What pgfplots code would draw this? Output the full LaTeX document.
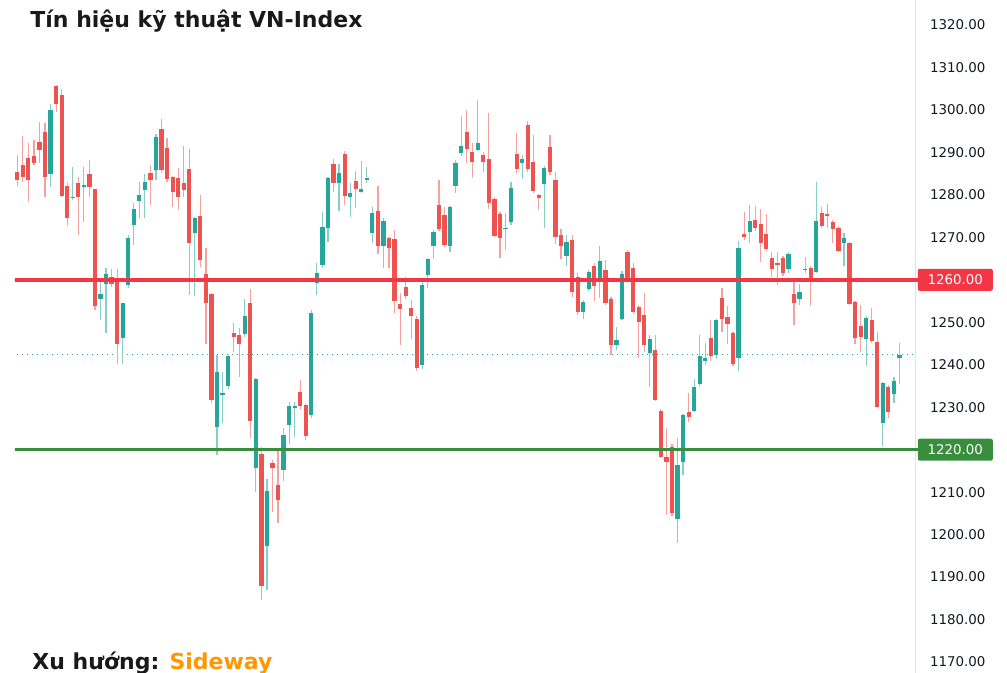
\documentclass[border=0pt]{standalone}
\usepackage{pgfplots}
\pgfplotsset{compat=1.18}
\usepackage{pgfplotstable}
\usepackage{fontspec}
\setmainfont{DejaVu Sans}
\definecolor{cred}{HTML}{EF5350}
\definecolor{cgreen}{HTML}{26A69A}
\colorlet{wred}{cred!55!white}
\colorlet{wgreen}{cgreen!55!white}
\definecolor{lred}{HTML}{F23645}
\definecolor{lgreen}{HTML}{388E3C}
\definecolor{axisgray}{HTML}{E0E3EB}
\definecolor{txt}{HTML}{131722}
\definecolor{sideorange}{HTML}{FF9800}

\pgfplotstableread{
x o h l c
0 1285.5 1289.4 1282.1 1283.5
1 1287.0 1293.9 1283.0 1284.3
2 1288.8 1292.1 1278.4 1283.5
3 1289.2 1292.9 1287.0 1287.4
4 1292.5 1297.2 1287.4 1290.6
5 1294.9 1296.9 1279.6 1284.3
7 1305.7 1305.9 1299.6 1301.4
8 1303.4 1304.9 1279.6 1279.8
9 1282.1 1283.1 1272.7 1274.6
11 1282.7 1284.3 1270.6 1279.6
13 1284.9 1288.2 1279.6 1281.9
14 1281.3 1281.5 1252.9 1253.8
17 1260.7 1262.5 1258.4 1259.0
18 1259.9 1262.5 1240.3 1245.0
24 1285.2 1287.0 1277.6 1283.5
26 1295.5 1297.8 1285.1 1285.9
27 1291.0 1293.3 1283.0 1283.7
28 1284.3 1284.5 1277.2 1280.6
29 1284.0 1286.3 1276.4 1279.4
30 1282.7 1291.5 1279.6 1281.1
31 1286.0 1290.7 1256.4 1268.6
33 1275.1 1280.0 1263.1 1264.7
34 1261.4 1267.4 1245.0 1254.5
35 1256.6 1257.0 1231.0 1231.7
39 1247.6 1249.8 1243.1 1246.5
40 1247.0 1248.6 1237.0 1244.9
42 1254.5 1257.8 1222.7 1226.8
44 1219.0 1220.7 1184.6 1187.9
46 1216.9 1217.7 1205.3 1215.8
47 1211.7 1219.9 1202.7 1208.2
51 1233.6 1236.4 1229.3 1230.3
52 1230.5 1230.8 1222.3 1223.3
57 1287.3 1288.4 1280.7 1282.7
59 1289.6 1290.4 1277.6 1279.7
61 1283.3 1285.7 1276.8 1281.3
65 1276.3 1282.1 1266.2 1267.9
67 1269.8 1270.2 1262.9 1267.6
68 1269.6 1271.7 1252.1 1255.1
69 1254.2 1256.8 1244.6 1253.1
70 1258.4 1260.7 1255.5 1256.2
71 1253.3 1255.2 1246.0 1251.5
72 1250.9 1251.5 1238.5 1239.2
76 1277.6 1283.5 1271.5 1271.9
77 1275.3 1277.1 1267.8 1268.2
81 1294.9 1300.1 1287.4 1290.8
82 1290.0 1292.1 1283.9 1287.8
84 1289.5 1290.0 1285.5 1287.8
85 1288.4 1299.4 1276.7 1278.0
86 1279.0 1279.5 1270.0 1270.4
87 1275.5 1276.0 1265.1 1269.9
90 1289.6 1294.5 1285.1 1286.1
92 1296.5 1297.5 1285.5 1286.1
93 1287.8 1294.1 1280.5 1280.9
94 1280.0 1280.3 1276.4 1279.3
96 1291.2 1294.1 1284.8 1285.3
97 1283.5 1285.5 1268.5 1270.0
98 1270.5 1272.0 1265.0 1268.0
100 1269.5 1270.5 1256.0 1257.2
101 1260.7 1261.5 1251.7 1252.5
104 1263.3 1263.9 1255.1 1258.6
106 1262.3 1264.7 1254.0 1254.6
107 1255.6 1256.0 1242.3 1244.6
110 1266.5 1267.0 1260.0 1260.4
111 1262.7 1263.9 1252.0 1252.5
112 1253.5 1254.0 1241.5 1250.1
113 1251.7 1256.9 1243.1 1244.6
115 1243.6 1247.0 1231.5 1231.7
116 1229.2 1229.5 1218.0 1218.3
117 1218.2 1225.2 1204.6 1217.0
118 1220.6 1221.3 1204.5 1205.0
121 1228.9 1233.4 1226.5 1227.6
125 1246.2 1250.5 1240.9 1242.0
127 1255.8 1258.0 1247.8 1250.9
128 1251.3 1253.8 1244.9 1249.6
129 1247.4 1247.8 1239.7 1240.2
131 1270.9 1276.0 1269.5 1270.2
133 1274.1 1277.4 1271.5 1272.1
134 1273.1 1276.6 1264.3 1268.7
135 1270.8 1275.5 1266.8 1267.2
136 1265.1 1266.6 1260.6 1262.5
137 1263.9 1266.6 1258.8 1263.5
138 1265.1 1265.5 1260.9 1261.5
140 1256.7 1259.6 1249.4 1254.6
143 1262.9 1263.2 1253.8 1260.1
145 1275.7 1277.1 1272.1 1272.7
146 1275.5 1277.9 1272.1 1275.2
147 1273.7 1274.2 1268.7 1271.9
148 1272.3 1272.6 1266.5 1266.8
150 1268.6 1269.0 1254.0 1254.3
151 1254.7 1255.0 1244.9 1246.2
152 1249.2 1254.1 1243.1 1246.6
154 1250.5 1253.3 1245.2 1245.6
155 1245.4 1247.6 1229.8 1230.1
157 1234.8 1235.2 1227.4 1228.8
}\downdata

\pgfplotstableread{
x o h l c
6 1284.8 1301.4 1281.9 1300.1
10 1279.2 1286.5 1278.8 1279.6
12 1281.8 1286.5 1273.5 1282.3
15 1255.6 1260.0 1250.5 1256.6
16 1259.0 1262.7 1247.6 1261.3
19 1246.2 1254.5 1240.2 1254.5
20 1258.8 1270.5 1258.0 1269.8
21 1272.9 1278.0 1268.2 1276.8
22 1278.6 1283.1 1274.5 1280.0
23 1281.1 1284.9 1274.5 1283.1
25 1285.9 1294.3 1283.5 1293.7
32 1271.0 1274.8 1256.2 1274.5
36 1225.3 1242.3 1218.7 1238.4
37 1233.0 1238.4 1226.2 1233.3
38 1234.9 1242.3 1234.3 1242.0
41 1247.2 1255.6 1246.5 1251.6
43 1215.6 1237.0 1210.1 1236.6
45 1197.4 1213.1 1187.0 1210.3
48 1215.2 1225.0 1212.6 1223.5
49 1225.7 1231.3 1221.3 1230.3
50 1229.7 1231.3 1223.1 1230.3
53 1228.2 1253.0 1227.5 1252.1
54 1259.2 1263.9 1256.4 1261.5
55 1263.5 1276.0 1262.9 1272.5
56 1272.1 1284.2 1269.0 1283.9
58 1282.9 1287.3 1276.3 1285.2
60 1279.4 1282.7 1274.9 1280.5
62 1280.7 1288.0 1280.4 1281.5
63 1283.6 1286.6 1282.7 1283.9
64 1271.1 1277.2 1268.6 1275.8
66 1267.9 1274.5 1262.9 1273.9
73 1239.9 1259.5 1238.9 1258.8
74 1261.1 1265.2 1258.0 1264.8
75 1267.9 1271.7 1264.8 1271.2
78 1267.9 1277.4 1266.6 1277.1
79 1282.2 1288.2 1280.5 1287.6
80 1289.8 1298.6 1289.2 1291.5
83 1290.6 1302.3 1290.3 1292.3
88 1272.0 1275.7 1267.0 1272.2
89 1273.7 1283.1 1273.0 1281.7
91 1287.4 1289.4 1283.7 1288.4
95 1282.5 1286.8 1272.1 1286.4
99 1265.5 1270.5 1263.3 1269.0
102 1252.5 1255.2 1250.9 1254.7
103 1257.8 1262.3 1257.4 1261.8
105 1260.1 1267.9 1255.6 1264.4
108 1244.6 1248.8 1243.6 1245.8
109 1250.9 1262.1 1250.5 1261.3
114 1242.8 1247.0 1234.7 1246.0
119 1203.6 1222.7 1198.1 1216.4
120 1217.0 1228.5 1214.0 1228.2
122 1229.1 1236.6 1228.8 1234.7
123 1235.4 1246.9 1235.0 1242.0
124 1241.0 1245.2 1239.9 1241.7
126 1242.3 1250.8 1241.3 1250.5
130 1241.7 1269.2 1238.6 1267.6
132 1271.3 1277.6 1268.7 1273.9
139 1262.5 1266.6 1261.7 1266.0
141 1255.4 1258.9 1254.1 1257.2
142 1262.3 1265.3 1261.7 1262.6
144 1261.9 1283.1 1261.5 1273.8
149 1268.7 1271.1 1263.3 1269.8
153 1246.0 1251.4 1239.7 1251.1
156 1226.4 1236.0 1220.9 1235.6
158 1233.1 1237.2 1231.0 1236.1
159 1241.5 1245.2 1235.5 1242.3
}\updata

\begin{document}
\begin{tikzpicture}
\path[use as bounding box] (0,0) rectangle (503.5pt,336.5pt);
\begin{axis}[
  at={(7.5pt,0pt)}, anchor=south west,
  scale only axis, width=450pt, height=336.5pt,
  xmin=-0.41, xmax=161.8, ymin=1167.42, ymax=1325.89,
  axis x line=none, axis y line*=right,
  y axis line style={draw=axisgray, line width=0.5pt, -},
  ytick={1170,1180,...,1320},
  major tick length=0pt, tick style={draw=none},
  /pgf/number format/assume math mode=true,
  yticklabel style={font=\fontsize{6.7}{8}\selectfont, text=txt, xshift=4pt,
    /pgf/number format/.cd, fixed, fixed zerofill, precision=2, 1000 sep={}},
]
% current price
\addplot[cgreen, dotted, line width=0.5pt, forget plot] coordinates {(-1,1242.3) (170,1242.3)};
% wicks
\addplot[draw=none, mark=none, forget plot, error bars/.cd, y dir=both, y explicit, error mark=none,
  error bar style={solid, line width=0.6pt, draw=wred}]
  table[x=x, y expr={(\thisrow{h}+\thisrow{l})/2}, y error expr={(\thisrow{h}-\thisrow{l})/2}] {\downdata};
\addplot[draw=none, mark=none, forget plot, error bars/.cd, y dir=both, y explicit, error mark=none,
  error bar style={solid, line width=0.6pt, draw=wgreen}]
  table[x=x, y expr={(\thisrow{h}+\thisrow{l})/2}, y error expr={(\thisrow{h}-\thisrow{l})/2}] {\updata};
% bodies
\addplot[draw=none, mark=none, forget plot, error bars/.cd, y dir=both, y explicit, error mark=none,
  error bar style={solid, line width=2.1pt, draw=cred}]
  table[x=x, y expr={(\thisrow{o}+\thisrow{c})/2}, y error expr={max(abs(\thisrow{o}-\thisrow{c})/2,0.15)}] {\downdata};
\addplot[draw=none, mark=none, forget plot, error bars/.cd, y dir=both, y explicit, error mark=none,
  error bar style={solid, line width=2.1pt, draw=cgreen}]
  table[x=x, y expr={(\thisrow{o}+\thisrow{c})/2}, y error expr={max(abs(\thisrow{o}-\thisrow{c})/2,0.15)}] {\updata};
% levels
\addplot[lred, line width=2pt, forget plot] coordinates {(-1,1260) (170,1260)};
\addplot[lgreen, line width=1.6pt, forget plot] coordinates {(-1,1220) (170,1220)};
\coordinate (tagR) at ({rel axis cs:1,0}|-{axis cs:0,1260});
\coordinate (tagG) at ({rel axis cs:1,0}|-{axis cs:0,1220});
\end{axis}
% connecting line stubs and price tags
\draw[lred, line width=2pt] (tagR) -- ++(1.5pt,0);
\draw[lgreen, line width=1.6pt] (tagG) -- ++(1.5pt,0);
\node[fill=lred, text=white, font=\fontsize{6.7}{8}\selectfont, anchor=west, inner sep=0pt,
  minimum width=37.5pt, minimum height=11pt, rounded corners=1pt, xshift=1.2pt]
  at (tagR) {1260.00};
\node[fill=lgreen, text=white, font=\fontsize{6.7}{8}\selectfont, anchor=west, inner sep=0pt,
  minimum width=37.5pt, minimum height=11pt, rounded corners=1pt, xshift=1.2pt]
  at (tagG) {1220.00};
\node[anchor=base west, inner sep=0pt, font=\bfseries\fontsize{11}{13}\selectfont, text=black!90]
  at (15pt,322.5pt) {Tín hiệu kỹ thuật VN-Index};
\node[anchor=base west, inner sep=0pt, font=\bfseries\fontsize{11}{13}\selectfont, text=black!90]
  at (16pt,1.5pt) {Xu hướng: \textcolor{sideorange}{Sideway}};
\end{tikzpicture}
\end{document}
